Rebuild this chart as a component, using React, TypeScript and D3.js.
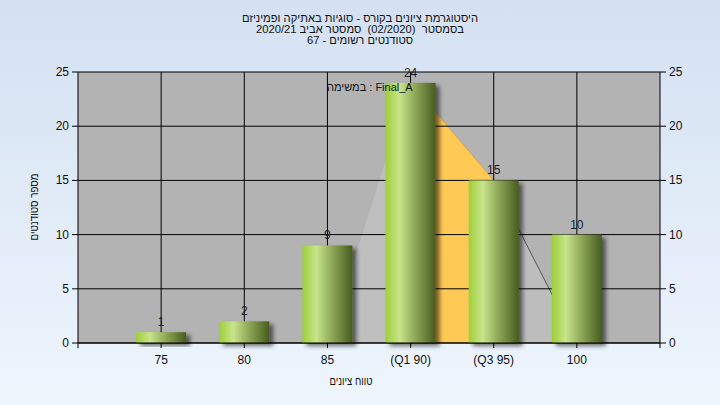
import React from "react";
import * as d3 from "d3";

const categories = ["75", "80", "85", "(Q1 90)", "(Q3 95)", "100"];
const counts = [1, 2, 9, 24, 15, 10];
const curveValues = [0, 0, 0, 24, 15, 0];
const yTicks = [0, 5, 10, 15, 20, 25];
const titleLines = [
  "היסטוגרמת ציונים בקורס - סוגיות באתיקה ופמיניזם",
  "בסמסטר  (02/2020)  סמסטר אביב 2020/21",
  "סטודנטים רשומים - 67",
];
const legendText = "במשימה : Final_A";
const xTitle = "טווח ציונים";
const yTitle = "מספר סטודנטים";

const W = 720;
const H = 405;
const left = 78;
const right = 660;
const top = 72;
const bottom = 343;
const FONT = "'Liberation Sans', Arial, sans-serif";

export default function App() {
  const x = d3.scalePoint<string>().domain(categories).range([left, right]).padding(1);
  const y = d3.scaleLinear().domain([0, 25]).range([bottom, top]);
  const barW = 50;

  const pts = categories.map((c, i) => [x(c) as number, curveValues[i]] as [number, number]);
  const area = d3
    .area<[number, number]>()
    .x((d) => d[0])
    .y0(y(0))
    .y1((d) => y(d[1]));
  const line = d3
    .line<[number, number]>()
    .x((d) => d[0])
    .y((d) => y(d[1]));

  const segLeft = pts.slice(2, 4);
  const segMid = pts.slice(3, 5);
  const segRight = pts.slice(4, 6);

  return (
    <svg
      width={W}
      height={H}
      style={{ position: "absolute", left: 0, top: 0, display: "block" }}
      fontFamily={FONT}
    >
      <defs>
        <linearGradient id="bg" x1="0" y1="0" x2="0" y2="1">
          <stop offset="0%" stopColor="#d4e1f2" />
          <stop offset="100%" stopColor="#eef5fd" />
        </linearGradient>
        <linearGradient id="bar" x1="0" y1="0" x2="1" y2="0">
          <stop offset="0%" stopColor="#9dcf38" />
          <stop offset="28%" stopColor="#c8e48c" />
          <stop offset="60%" stopColor="#8ca656" />
          <stop offset="100%" stopColor="#475c1e" />
        </linearGradient>
        <filter id="shadow" x="-20%" y="-20%" width="150%" height="150%">
          <feDropShadow dx="4" dy="3" stdDeviation="2" floodColor="#000" floodOpacity="0.55" />
        </filter>
      </defs>
      <rect x={0} y={0} width={W} height={H} fill="url(#bg)" />

      {/* title */}
      {titleLines.map((t, i) => (
        <text
          key={i}
          x={360}
          y={22 + i * 11}
          textAnchor="middle"
          direction="rtl"
          fontSize={11.2}
          fill="#111"
          style={{ whiteSpace: "pre" }}
        >
          {t}
        </text>
      ))}

      {/* plot area */}
      <rect x={left} y={top} width={right - left} height={bottom - top} fill="#b3b3b3" />

      {/* distribution area */}
      <path d={area(segLeft) || ""} fill="#bfbfbf" />
      <path d={area(segRight) || ""} fill="#bdbdbd" />
      <path d={area(segMid) || ""} fill="#ffc955" />
      <path d={line(segMid) || ""} fill="none" stroke="#d9a640" strokeWidth={1} />
      <path d={line(segRight) || ""} fill="none" stroke="#555" strokeWidth={1} />

      {/* gridlines */}
      {yTicks.map((t) => (
        <line key={"h" + t} x1={left} x2={right} y1={y(t)} y2={y(t)} stroke="#000" strokeWidth={1} />
      ))}
      {categories.map((c) => (
        <line key={"v" + c} x1={x(c)} x2={x(c)} y1={top} y2={bottom} stroke="#000" strokeWidth={1} />
      ))}

      {/* bars */}
      {categories.map((c, i) => (
        <rect
          key={"b" + c}
          x={(x(c) as number) - barW / 2}
          y={y(counts[i])}
          width={barW}
          height={bottom - y(counts[i])}
          fill="url(#bar)"
          filter="url(#shadow)"
        />
      ))}

      {/* value labels */}
      {categories.map((c, i) => (
        <text
          key={"l" + c}
          x={x(c)}
          y={y(counts[i]) - 6}
          textAnchor="middle"
          fontSize={12}
          fill="#1a1a2a"
        >
          {counts[i]}
        </text>
      ))}

      {/* legend */}
      <text x={327} y={91} fontSize={11} fill="#111" direction="ltr">
        {legendText}
      </text>

      {/* axes */}
      <line x1={left} x2={left} y1={top} y2={bottom + 5} stroke="#000" />
      <line x1={right} x2={right} y1={top} y2={bottom + 5} stroke="#000" />
      <line x1={left} x2={right} y1={bottom} y2={bottom} stroke="#000" />
      {yTicks.map((t) => (
        <g key={"yt" + t}>
          <line x1={left - 6} x2={left} y1={y(t)} y2={y(t)} stroke="#000" />
          <text x={left - 9} y={y(t) + 4} textAnchor="end" fontSize={12} fill="#111">
            {t}
          </text>
          <line x1={right} x2={right + 6} y1={y(t)} y2={y(t)} stroke="#000" />
          <text x={right + 9} y={y(t) + 4} textAnchor="start" fontSize={12} fill="#111">
            {t}
          </text>
        </g>
      ))}
      {categories.map((c) => (
        <g key={"xt" + c}>
          <line x1={x(c)} x2={x(c)} y1={bottom} y2={bottom + 5} stroke="#000" />
          <text x={x(c)} y={364} textAnchor="middle" fontSize={12} fill="#111">
            {c}
          </text>
        </g>
      ))}

      <text
        x={351}
        y={385}
        textAnchor="middle"
        fontSize={11}
        fill="#111"
        direction="rtl"
        textLength={43}
        lengthAdjust="spacingAndGlyphs"
      >
        {xTitle}
      </text>
      <text
        transform={`translate(38, 207) rotate(-90)`}
        textAnchor="middle"
        fontSize={11}
        fill="#111"
        direction="rtl"
        textLength={67}
        lengthAdjust="spacingAndGlyphs"
      >
        {yTitle}
      </text>
    </svg>
  );
}
